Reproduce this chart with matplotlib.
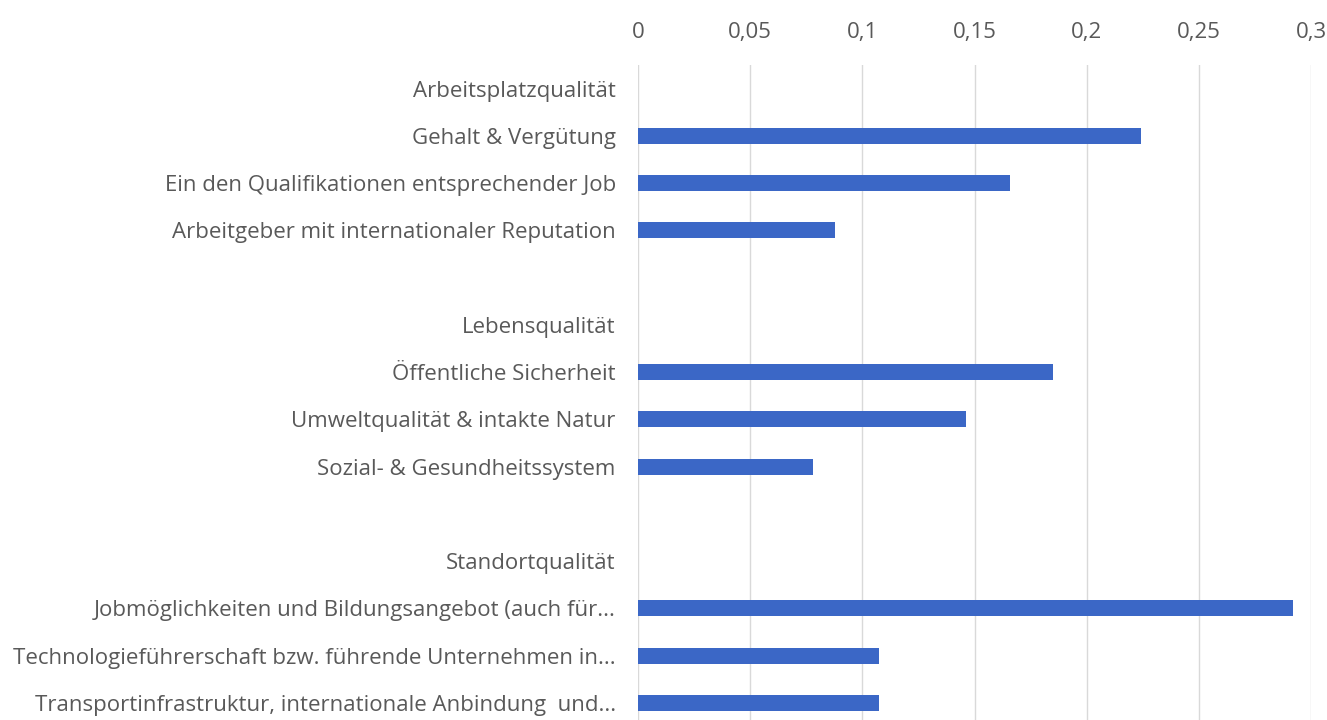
import matplotlib
matplotlib.use("Agg")
import matplotlib.pyplot as plt
from matplotlib.ticker import FuncFormatter

categories = [
    "Arbeitsplatzqualität",
    "Gehalt & Vergütung",
    "Ein den Qualifikationen entsprechender Job",
    "Arbeitgeber mit internationaler Reputation",
    "",
    "Lebensqualität",
    "Öffentliche Sicherheit",
    "Umweltqualität & intakte Natur",
    "Sozial- & Gesundheitssystem",
    "",
    "Standortqualität",
    "Jobmöglichkeiten und Bildungsangebot (auch für...",
    "Technologieführerschaft bzw. führende Unternehmen in...",
    "Transportinfrastruktur, internationale Anbindung  und...",
]
values = [0, 0.224, 0.166, 0.088, 0, 0, 0.185, 0.146, 0.078, 0, 0, 0.292, 0.1075, 0.1075]
xticks = [0, 0.05, 0.1, 0.15, 0.2, 0.25, 0.3]

W, H = 1327, 720
fig = plt.figure(figsize=(W / 100, H / 100), dpi=100)
left, right, top = 638, 1311, 65
ax = fig.add_axes([left / W, 0, (right - left) / W, (H - top) / H])

y = list(range(len(categories)))
ax.barh(y, values, height=0.34, color="#3B67C6", zorder=3)

ax.set_xlim(0, 0.3)
ax.set_ylim(13 + (H - 703) / 47.2, -0.5)
ax.set_yticks(y)
ax.set_yticklabels(categories, fontsize=16, color="#595959", family="Open Sans")
ax.set_xticks(xticks)
ax.xaxis.set_major_formatter(FuncFormatter(lambda v, p: ("%g" % v).replace(".", ",")))
ax.xaxis.tick_top()
ax.tick_params(axis="x", length=0, pad=16, labelsize=16, labelcolor="#595959")
ax.tick_params(axis="y", length=0, pad=16)
for lab in ax.get_xticklabels():
    lab.set_family("Open Sans")
ax.grid(axis="x", color="#D9D9D9", linewidth=1, zorder=0)
for s in ax.spines.values():
    s.set_visible(False)

fig.savefig("out.png", dpi=100)
